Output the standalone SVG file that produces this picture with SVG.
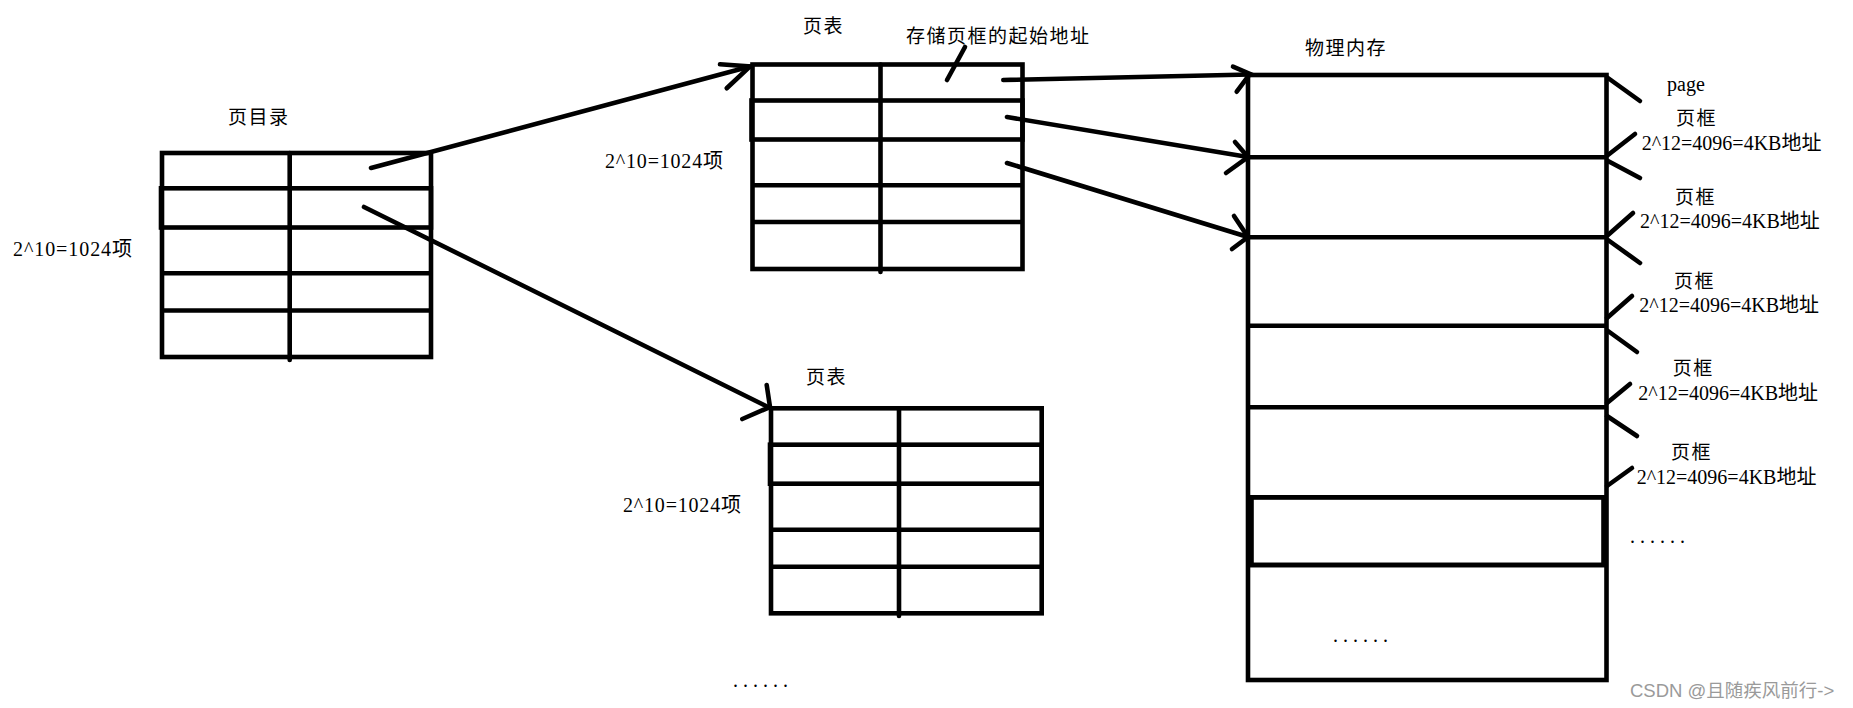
<svg xmlns="http://www.w3.org/2000/svg" width="1853" height="708" viewBox="0 0 1853 708">
<style>
.box{fill:none;stroke:#000;stroke-width:4.6}
.ln{stroke:#000;stroke-width:4.6;fill:none}
.cn{stroke:#000;stroke-width:4.6;fill:none;stroke-linecap:round}
.t{font-family:"Liberation Serif","Noto Sans CJK SC",serif;font-size:20px;fill:#000}
.cjk{font-family:"Liberation Serif","Noto Sans CJK SC",serif;font-size:19px;fill:#000;letter-spacing:1.5px}
.dots{font-family:"Liberation Serif",serif;font-size:20px;fill:#000;letter-spacing:5px}
.wm{font-family:"Liberation Sans","Noto Sans CJK SC",sans-serif;font-size:18.5px;fill:#9a9a9a}
</style>
<rect width="1853" height="708" fill="#fff"/>

<g id="page-directory">
<text class="cjk" x="228" y="124">页目录</text>
<text class="t" x="13" y="256" textLength="119">2^10=1024项</text>
<rect class="box" x="162" y="153" width="269" height="204"/>
<rect class="box" x="161" y="188.3" width="270" height="39.2"/>
<line class="ln" x1="162" y1="273.3" x2="431" y2="273.3"/>
<line class="ln" x1="162" y1="310.5" x2="431" y2="310.5"/>
<line class="cn" x1="289.7" y1="153" x2="289.7" y2="360"/>
</g>

<g id="page-table-1">
<text class="cjk" x="803" y="33">页表</text>
<text class="cjk" x="906" y="43" letter-spacing="2">存储页框的起始地址</text>
<text class="t" x="605" y="168" textLength="118">2^10=1024项</text>
<rect class="box" x="752.5" y="64.5" width="270" height="204.5"/>
<rect class="box" x="751.5" y="100.5" width="271" height="39"/>
<line class="ln" x1="752.5" y1="185.3" x2="1022.5" y2="185.3"/>
<line class="ln" x1="752.5" y1="222" x2="1022.5" y2="222"/>
<line class="cn" x1="880.5" y1="64.5" x2="880.5" y2="272"/>
</g>

<g id="page-table-2">
<text class="cjk" x="806" y="384">页表</text>
<text class="t" x="623" y="512" textLength="118">2^10=1024项</text>
<rect class="box" x="771" y="408.3" width="270.7" height="205"/>
<rect class="box" x="770" y="444.7" width="271.7" height="39"/>
<line class="ln" x1="771" y1="529.7" x2="1041.7" y2="529.7"/>
<line class="ln" x1="771" y1="566.7" x2="1041.7" y2="566.7"/>
<line class="cn" x1="899" y1="408.3" x2="899" y2="616"/>
<text class="dots" x="733" y="687">......</text>
</g>

<g id="physical-memory">
<text class="cjk" x="1305" y="55">物理内存</text>
<rect class="box" x="1248" y="75" width="358.5" height="605"/>
<line class="ln" x1="1248" y1="157.3" x2="1606.5" y2="157.3"/>
<line class="ln" x1="1248" y1="237.3" x2="1606.5" y2="237.3"/>
<line class="ln" x1="1248" y1="325.7" x2="1606.5" y2="325.7"/>
<line class="ln" x1="1248" y1="407.3" x2="1606.5" y2="407.3"/>
<rect class="box" x="1251.5" y="497.3" width="352" height="67.7"/>
<line class="ln" x1="1248" y1="497.3" x2="1606.5" y2="497.3"/>
<line class="ln" x1="1248" y1="565" x2="1606.5" y2="565"/>
<text class="dots" x="1333" y="641.5">......</text>
</g>

<g id="page-frame-labels">
<g class="cn">
<line x1="1608" y1="78" x2="1640" y2="101"/>
<line x1="1608" y1="155" x2="1635" y2="134"/>
<line x1="1608" y1="161" x2="1640" y2="178"/>
<line x1="1608" y1="235" x2="1633" y2="213"/>
<line x1="1608" y1="240" x2="1640" y2="263"/>
<line x1="1607" y1="318" x2="1632" y2="296"/>
<line x1="1608" y1="331" x2="1637" y2="352"/>
<line x1="1607" y1="403" x2="1630" y2="384"/>
<line x1="1607" y1="416" x2="1637" y2="436"/>
<line x1="1607" y1="486" x2="1632" y2="468"/>
</g>
<text class="t" x="1667" y="91" font-size="21">page</text>
<text class="cjk" x="1676" y="125">页框</text>
<text class="t" x="1641.7" y="150">2^12=4096=4KB地址</text>
<text class="cjk" x="1675" y="204">页框</text>
<text class="t" x="1640" y="228.3">2^12=4096=4KB地址</text>
<text class="cjk" x="1674" y="288">页框</text>
<text class="t" x="1639.3" y="312.3">2^12=4096=4KB地址</text>
<text class="cjk" x="1672.7" y="375">页框</text>
<text class="t" x="1638.3" y="400">2^12=4096=4KB地址</text>
<text class="cjk" x="1671" y="459">页框</text>
<text class="t" x="1636.7" y="484">2^12=4096=4KB地址</text>
<text class="dots" x="1630" y="542.5">......</text>
</g>

<g id="connectors" class="cn">
<line x1="371" y1="168" x2="750" y2="66.5"/>
<polyline points="720,64.3 750,66.5 726.7,88.3"/>
<line x1="364" y1="207" x2="770" y2="408"/>
<polyline points="766.7,385 770,407 742.3,419"/>
<line x1="965" y1="47" x2="947" y2="80"/>
<line x1="1003.3" y1="80" x2="1250" y2="74.5"/>
<polyline points="1233,66.7 1250,74 1236.7,91.7"/>
<line x1="1007" y1="117" x2="1248" y2="157"/>
<polyline points="1235,142 1248,157 1226,173"/>
<line x1="1007" y1="163" x2="1248" y2="237"/>
<polyline points="1234,216 1248,237 1232,249"/>
</g>

<text class="wm" x="1630" y="697">CSDN @且随疾风前行-&gt;</text>
</svg>
